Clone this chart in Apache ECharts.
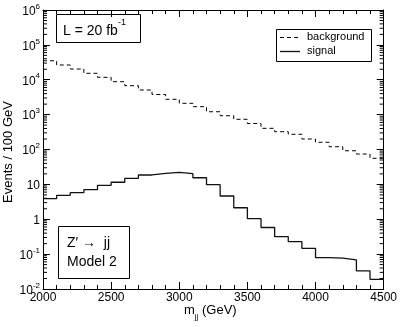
<!DOCTYPE html>
<html>
<head>
<meta charset="utf-8">
<script src="https://cdn.jsdelivr.net/npm/echarts@6/dist/echarts.min.js"></script>
<style>
  html, body { margin: 0; padding: 0; background: #fff; }
  #chart { width: 400px; height: 327px; }
</style>
</head>
<body>
<div id="chart"></div>
<script>
// lower edges of the 100 GeV bins
var binEdges = [2000, 2100, 2200, 2300, 2400, 2500, 2600, 2700, 2800, 2900,
                3000, 3100, 3200, 3300, 3400, 3500, 3600, 3700, 3800, 3900,
                4000, 4100, 4200, 4300, 4400];
var bgValues = [35000, 26500, 20300, 15300, 11750, 8800, 6750, 5080, 3780, 2750,
                2110, 1690, 1210, 930, 735, 556, 405, 324, 273, 200,
                161, 120, 92, 74, 56];
var sigValues = [3.88, 4.86, 5.77, 7.03, 9.41, 11.5, 14.9, 18.6, 20.8, 22.2,
                 20.2, 15.5, 9.8, 4.64, 2.14, 1.04, 0.58, 0.316, 0.227, 0.147,
                 0.079, 0.077, 0.068, 0.033, 0.019];
var xLast = 4500;
var yDecades = [-2, -1, 0, 1, 2, 3, 4, 5, 6];

var FONT = '"Liberation Sans", Arial, sans-serif';

// step points: each bin from its left edge, last point closes the final bin
function toSteps(vals) {
    var pts = [];
    for (var i = 0; i < binEdges.length; i++) {
        pts.push([binEdges[i], vals[i]]);
    }
    pts.push([xLast, vals[vals.length - 1]]);
    return pts;
}

// minor ticks of the log axis (2..9 in each decade)
var minorVals = [];
for (var d = 0; d < yDecades.length - 1; d++) {
    for (var k = 2; k <= 9; k++) {
        minorVals.push(k * Math.pow(10, yDecades[d]));
    }
}

function logLabel(v) {
    var e = Math.round(Math.log(v) / Math.LN10);
    if (e === 0) return '{b|1}';
    if (e === 1) return '{b|10}';
    return '{b|10}{s|' + e + '}';
}

var labelRich = {
    b: { fontSize: 12, fontFamily: FONT, color: '#000', lineHeight: 15, verticalAlign: 'bottom' },
    s: { fontSize: 8, fontFamily: FONT, color: '#000', lineHeight: 15, verticalAlign: 'top', padding: [0, 0, 7, 0] }
};

var myChart = echarts.init(document.getElementById('chart'), null, { renderer: 'canvas' });
var option = {
    animation: false,
    backgroundColor: '#fff',
    grid: { left: 43, right: 16, top: 10, bottom: 38 },
    xAxis: [
        {
            type: 'value', min: 2000, max: 4500, interval: 500,
            axisLine: { show: true, onZero: false, lineStyle: { color: '#000', width: 1 } },
            axisTick: { show: true, inside: true, length: 7, lineStyle: { color: '#000' } },
            minorTick: { show: true, splitNumber: 5, length: 4, lineStyle: { color: '#000' } },
            splitLine: { show: false },
            axisLabel: {
                color: '#000', fontSize: 12, fontFamily: FONT, margin: 3,
                formatter: function (v) { return String(v); }
            }
        },
        {
            type: 'value', min: 2000, max: 4500, interval: 500, position: 'top',
            axisLine: { show: true, onZero: false, lineStyle: { color: '#000', width: 1 } },
            axisTick: { show: true, inside: true, length: 7, lineStyle: { color: '#000' } },
            minorTick: { show: true, splitNumber: 5, length: 4, lineStyle: { color: '#000' } },
            splitLine: { show: false },
            axisLabel: { show: false }
        }
    ],
    yAxis: [
        {
            type: 'log', logBase: 10, min: 0.01, max: 1e6, splitNumber: 8,
            axisLine: { show: true, onZero: false, lineStyle: { color: '#000', width: 1 } },
            axisTick: { show: true, inside: true, length: 7, lineStyle: { color: '#000' } },
            splitLine: { show: false },
            axisLabel: { formatter: logLabel, rich: labelRich, margin: 3 }
        },
        {
            type: 'log', logBase: 10, min: 0.01, max: 1e6, splitNumber: 8, position: 'right',
            axisLine: { show: true, onZero: false, lineStyle: { color: '#000', width: 1 } },
            axisTick: { show: true, inside: true, length: 7, lineStyle: { color: '#000' } },
            splitLine: { show: false },
            axisLabel: { show: false }
        }
    ],
    series: [
        {
            name: 'background', type: 'line', step: 'end',
            data: toSteps(bgValues), symbol: 'none',
            lineStyle: { color: '#000', width: 1, type: [4, 3] }
        },
        {
            name: 'signal', type: 'line', step: 'end',
            data: toSteps(sigValues), symbol: 'none',
            lineStyle: { color: '#111', width: 1.3 }
        },
        {
            // log-axis minor ticks on both sides
            type: 'custom', silent: true,
            data: minorVals.map(function (v) { return [v]; }),
            renderItem: function (params, api) {
                var v = api.value(0);
                var pl = api.coord([2000, v]);
                var pr = api.coord([4500, v]);
                var st = { stroke: '#000', lineWidth: 1 };
                return {
                    type: 'group',
                    children: [
                        { type: 'line', shape: { x1: pl[0], y1: pl[1], x2: pl[0] + 4, y2: pl[1] }, style: st },
                        { type: 'line', shape: { x1: pr[0] - 4, y1: pr[1], x2: pr[0], y2: pr[1] }, style: st }
                    ]
                };
            },
            encode: { y: 0 }
        }
    ],
    graphic: [
        // legend box
        { type: 'rect', shape: { x: 276.5, y: 29.5, width: 95, height: 32 }, style: { fill: '#fff', stroke: '#000', lineWidth: 1 } },
        { type: 'line', shape: { x1: 280, y1: 37.5, x2: 300, y2: 37.5 }, style: { stroke: '#000', lineWidth: 1, lineDash: [4, 3] } },
        { type: 'line', shape: { x1: 280, y1: 51.5, x2: 300, y2: 51.5 }, style: { stroke: '#111', lineWidth: 1.3 } },
        { type: 'text', left: 307, top: 31, style: { text: 'background', fontSize: 11, fontFamily: FONT, fill: '#000' } },
        { type: 'text', left: 307, top: 45, style: { text: 'signal', fontSize: 11, fontFamily: FONT, fill: '#000' } },
        // luminosity box
        { type: 'rect', shape: { x: 56.5, y: 14.5, width: 84, height: 28 }, style: { fill: '#fff', stroke: '#000', lineWidth: 1 } },
        {
            type: 'text', left: 63, top: 18,
            style: {
                text: '{b|L = 20 fb}{s|-1}',
                rich: {
                    b: { fontSize: 14, fontFamily: FONT, fill: '#000', lineHeight: 20, verticalAlign: 'bottom' },
                    s: { fontSize: 9, fontFamily: FONT, fill: '#000', lineHeight: 20, verticalAlign: 'top', padding: [0, 0, 6, 0] }
                }
            }
        },
        // model box
        { type: 'rect', shape: { x: 58.5, y: 226.5, width: 71, height: 52 }, style: { fill: '#fff', stroke: '#000', lineWidth: 1 } },
        { type: 'text', left: 67, top: 236, style: { text: 'Z\u2032 \u2192  jj', fontSize: 14, fontFamily: FONT, fill: '#000' } },
        { type: 'text', left: 67, top: 255, style: { text: 'Model 2', fontSize: 14, fontFamily: FONT, fill: '#000' } },
        // axis titles
        {
            type: 'text', left: 184, top: 304,
            style: {
                text: '{b|m}{s|jj}{b| (GeV)}',
                rich: {
                    b: { fontSize: 13, fontFamily: FONT, fill: '#000', lineHeight: 17, verticalAlign: 'top' },
                    s: { fontSize: 8, fontFamily: FONT, fill: '#000', lineHeight: 17, verticalAlign: 'bottom', padding: [3, 0, 0, 0] }
                }
            }
        },
        {
            type: 'text', x: 8, y: 152, rotation: Math.PI / 2,
            style: { text: 'Events / 100 GeV', fontSize: 13, fontFamily: FONT, fill: '#000', align: 'center', verticalAlign: 'middle' }
        }
    ]
};
myChart.setOption(option);
window.addEventListener('resize', function () {
    myChart.resize();
});
</script>
</body>
</html>
